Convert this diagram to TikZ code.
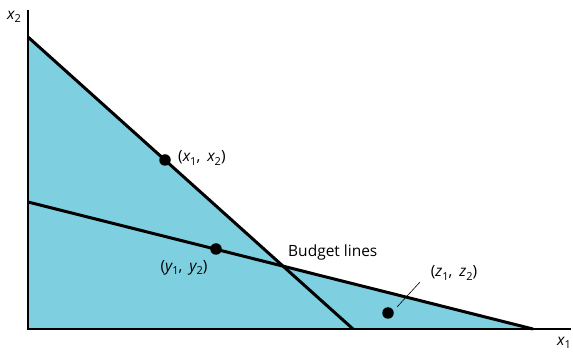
\documentclass[tikz,border=0pt]{standalone}
\usepackage{fontspec}
\setmainfont{Open Sans}
\definecolor{fillblue}{RGB}{126,207,224}
\newcommand{\sbx}[1]{\raisebox{-0.4ex}{\fontsize{11}{12}\selectfont\upshape #1}}
\newcommand{\pr}[2]{\upshape(\itshape #1\sbx{1}\upshape,\hspace{0.45em}\itshape #2\sbx{2}\upshape)}
\begin{document}
\begin{tikzpicture}[x=1pt,y=-1pt,
  budget/.style={line width=3pt},
  axis/.style={line width=1.8pt},
  dot/.style={circle,fill=black,inner sep=0pt,minimum size=11.5pt},
  lbl/.style={font=\fontsize{15.5}{17}\selectfont,inner sep=0pt},
  vlbl/.style={font=\fontsize{15.5}{17}\selectfont\itshape,inner sep=0pt}]
\useasboundingbox (0,0) rectangle (573,352);
\coordinate (O) at (28,329);
\coordinate (ytop) at (28,10);
\coordinate (xend) at (571,329);
\coordinate (a1) at (28,37);
\coordinate (a2) at (353,329);
\coordinate (b1) at (28,202);
\coordinate (b2) at (533,329);
\coordinate (I) at (283,266);
\fill[fillblue] (O) -- (a1) -- (I) -- (b2) -- cycle;
\draw[budget] (a1) -- (a2);
\draw[budget] (b1) -- (b2);
\draw[axis] (ytop) -- (O) -- (xend);
\node[dot] (px) at (165,160) {};
\node[dot] (py) at (216,249) {};
\node[dot] (pz) at (388,313) {};
\node[vlbl,anchor=west] (lx) at (178,158) {\pr{x}{x}};
\node[vlbl] (ly) at (184,268) {\pr{y}{y}};
\node[vlbl] (lz) at (454,273) {\pr{z}{z}};
\node[lbl,anchor=west] (lb) at (288,252) {Budget lines};
\node[vlbl] (lx2) at (14,17) {x\sbx{2}};
\node[vlbl] (lx1) at (564,343) {x\sbx{1}};
\coordinate (zl1) at (397,307);
\coordinate (zl2) at (420,282);
\draw[line width=0.6pt] (zl1) -- (zl2);
\end{tikzpicture}
\end{document}
